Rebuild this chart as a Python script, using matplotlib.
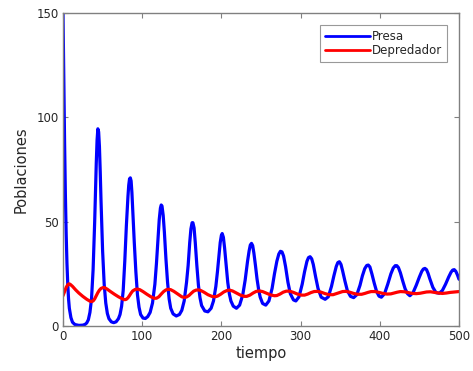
import matplotlib
matplotlib.use("Agg")
import matplotlib.pyplot as plt

# Prey (Presa) readings: time, population
presa_t = [0, 1, 2, 3, 4, 5, 6, 7, 8, 10, 12, 15, 20, 25, 28, 30, 32, 34, 36, 38, 40, 42, 43, 44, 45, 46, 47, 48,
           50, 52, 54, 56, 58, 61, 64, 67, 70, 72, 74, 76, 78, 80, 82, 83, 84, 85, 86, 87, 88, 90, 92, 94, 96, 98,
           101, 104, 107, 110, 113, 116, 118, 120, 121.5, 123, 124, 125, 126.5, 128, 130, 132, 134, 136, 139, 143, 147, 150,
           153, 156, 158, 160, 161.5, 163, 164, 165.5, 167, 169, 171, 173, 175, 179, 183, 187, 190, 193, 195, 197, 198.5,
           200, 201, 202.5, 204, 206, 208, 210, 212, 215, 219, 223, 227, 230, 233, 235, 236.5, 238, 239.5, 241, 243, 245, 247, 249,
           252, 256, 260, 264, 267, 270, 272.5, 274.5, 276.5, 278.5, 281, 284, 287, 291, 294, 298, 302, 305, 308, 310, 312, 314,
           316, 319, 322, 326, 331, 335, 339, 342, 345, 347, 349, 351, 353, 356, 359, 363, 367, 371, 375, 378, 381, 383.5,
           385.5, 387.5, 390, 393, 396, 399, 402, 406, 410, 414, 417, 419.5, 421.5, 423.5, 426, 429, 432, 435, 438, 442, 446, 450, 453, 455,
           457, 459, 461, 463, 467, 471, 475, 479, 483, 487, 490, 492, 494, 496, 498, 500]
presa_y = [150, 118, 88, 63, 44, 30, 20, 13, 8.5, 4, 1.8, 0.7, 0.3, 0.4, 0.8, 1.5, 3, 6.5, 13, 27, 50, 78, 89, 94.5, 93, 86, 74, 60,
           36, 20, 11, 6, 3.5, 2, 1.6, 2, 3.5, 5.5, 9.5, 17, 31, 48, 62, 67.5, 70.5, 71, 69.5, 64, 56, 40, 26, 15, 9, 5.5,
           3.8, 3.6, 4.5, 6.5, 11, 20, 30, 42, 51, 56.5, 58, 57.5, 53, 45, 32, 21, 13, 8.5, 5.8, 4.8, 5.5, 7.5,
           12, 21, 29, 40, 46.5, 49.5, 49.5, 47, 40, 29, 19.5, 13.5, 9.8, 7.2, 6.8, 8.5, 12, 19, 26, 34, 40,
           43.5, 44.3, 42.5, 37.5, 29, 21, 15.5, 12, 9.5, 8.5, 10, 15, 22, 31, 36, 38.8, 39.6, 38.5, 35, 29, 22.5, 17.5, 13.8,
           10.8, 10, 12, 18, 25, 31, 34.5, 35.8, 35.5, 33.5, 28.5, 21, 15.5, 12.5, 12, 14, 20, 26, 31, 32.8, 33.2, 32.2,
           29.5, 23.5, 18, 13.8, 12.8, 14, 19, 24, 28.5, 30.4, 30.8, 29.5, 26.5, 21.5, 17, 14.2, 13.6, 15, 19.5, 24, 27.5, 29,
           29.2, 28.3, 25, 20.5, 16.5, 14.3, 13.8, 15.5, 20, 25, 27.8, 28.9, 28.9, 28, 25.5, 21.5, 17.8, 15.5, 14.5, 16, 19.5, 23.5, 26.2, 27.3,
           27.6, 27, 25.2, 22.8, 18.5, 16, 15.7, 17, 20, 23.5, 25.8, 26.8, 27, 26.2, 24.5, 22.4]

# Predator (Depredador) readings: time, population
depredador_t = [0, 2, 4, 6, 7.5, 9, 12, 16, 20, 25, 30, 34, 36, 38, 40, 42, 44, 46, 48, 50.5, 53, 56, 60, 65, 70,
                75, 78, 80, 82, 84, 86, 88, 91, 94, 97, 101, 106, 111, 115, 118, 121, 124, 127, 130, 133, 136,
                140, 145, 150, 153, 156, 159, 162, 165, 168, 171, 174, 178, 183, 188, 192, 195, 199, 203, 207,
                210, 214, 219, 224, 229, 232, 236, 240, 244, 248, 252, 257, 262, 267, 270, 274, 278, 282, 286,
                291, 296, 301, 305, 309, 313, 317, 321, 326, 331, 336, 341, 345, 349, 353, 357, 362, 367, 372,
                377, 381, 385, 389, 394, 399, 404, 409, 414, 418, 422, 426, 431, 436, 441, 446, 451, 455, 459,
                464, 469, 474, 479, 484, 489, 494, 500]
depredador_y = [14.5, 16.5, 18.5, 19.8, 20.2, 20, 19, 17.3, 15.8, 14.2, 12.8, 11.9, 11.7, 12, 13, 14.5, 16, 17.2, 18, 18.4, 18.3, 17.6, 16.5, 15.2, 14,
                13, 12.6, 12.8, 13.5, 14.6, 15.8, 16.8, 17.5, 17.7, 17.4, 16.5, 15.2, 14, 13.3, 13.3, 14, 15.3, 16.5, 17.3, 17.6, 17.4,
                16.6, 15.3, 14, 13.7, 13.9, 14.6, 15.7, 16.7, 17.2, 17.3, 17, 16.2, 15, 14.2, 14, 14.3, 15.2, 16.3, 17,
                17.2, 16.8, 15.8, 14.8, 14.2, 14.2, 14.8, 15.8, 16.6, 16.8, 16.5, 15.7, 14.9, 14.5, 14.6, 15.3, 16.2, 16.7, 16.7,
                16.1, 15.3, 14.8, 14.8, 15.3, 16, 16.5, 16.6, 16.2, 15.5, 15, 15, 15.5, 16, 16.5, 16.6, 16.2, 15.6, 15.2,
                15.2, 15.6, 16.1, 16.5, 16.5, 16.1, 15.6, 15.3, 15.4, 15.8, 16.2, 16.5, 16.4, 16, 15.6, 15.5, 15.7, 16, 16.3,
                16.4, 16.1, 15.8, 15.6, 15.8, 16.1, 16.3, 16.5]

labels = ["Presa", "Depredador"]
x_label = "tiempo"
y_label = "Poblaciones"
x_ticks = [0, 100, 200, 300, 400, 500]
y_ticks = [0, 50, 100, 150]

fig = plt.figure(figsize=(4.73, 3.71), dpi=100)
ax = fig.add_axes([0.1332, 0.1213, 0.8372, 0.8437])

ax.plot(presa_t, presa_y, color=(0, 0, 1), lw=2.3, label=labels[0],
        solid_joinstyle="round", solid_capstyle="round")
ax.plot(depredador_t, depredador_y, color=(1, 0, 0), lw=2.3, label=labels[1],
        solid_joinstyle="round", solid_capstyle="round")

ax.set_xlim(0, 500)
ax.set_ylim(0, 150)
ax.set_xticks(x_ticks)
ax.set_yticks(y_ticks)

text_color = "#262626"
spine_color = "#808080"
for s in ax.spines.values():
    s.set_color(spine_color)
    s.set_linewidth(1.0)
ax.tick_params(direction="in", top=True, right=True, length=3.5, width=0.8,
               color=spine_color, labelcolor=text_color, labelsize=8.5, pad=3)

ax.set_xlabel(x_label, fontsize=10.5, color=text_color, labelpad=2)
ax.set_ylabel(y_label, fontsize=10.5, color=text_color, labelpad=6)

leg = ax.legend(loc="upper right", fontsize=8.5, frameon=True, fancybox=False,
                handlelength=3.8, handletextpad=0.2, borderpad=0.4, labelspacing=0.12,
                borderaxespad=0, bbox_to_anchor=(0.9697, 0.9617))
leg.get_frame().set_edgecolor("#808080")
leg.get_frame().set_linewidth(0.8)
for line in leg.get_lines():
    line.set_linewidth(2.0)
for t in leg.get_texts():
    t.set_color(text_color)

fig.savefig("out.png", dpi=100)
